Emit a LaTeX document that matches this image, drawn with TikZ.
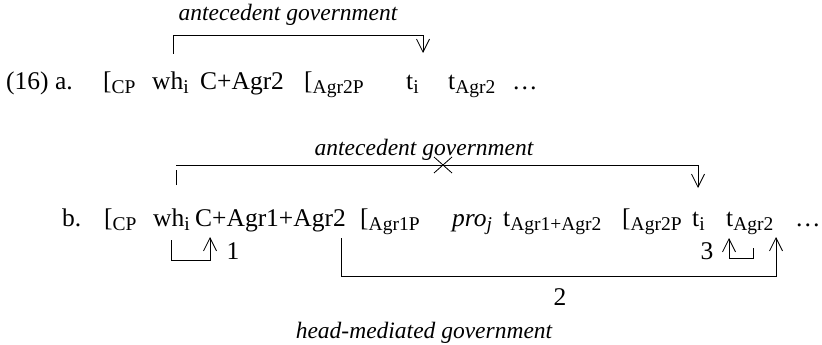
\documentclass[tikz,border=0pt]{standalone}
\usepackage{fontspec}
\setmainfont{Liberation Serif}
\usetikzlibrary{arrows.meta}
\newcommand{\sub}[1]{\raisebox{-4.5pt}{\fontsize{19.5}{20}\selectfont #1}}
\newcommand{\bra}[1]{[\sub{#1}}
\newcommand{\trc}[2]{#1\sub{#2}}

\begin{document}
\begin{tikzpicture}[
      x=1pt, y=-1pt, %pixel like units
      word/.style={anchor=base west, inner sep=0pt, font=\fontsize{25.5}{30}\selectfont},
      gov/.style={inner sep=0pt, font=\fontsize{23.5}{28}\selectfont\itshape},
      num/.style={inner sep=0pt, font=\fontsize{25.5}{30}\selectfont},
      link/.style={line width=0.8pt},
      move/.style={link, -{Straight Barb[length=13pt,width=13pt]}}
    ]
    \useasboundingbox (0,0) rectangle (822,345);
    % Sentence a
    \node[word] (exa) at (6,89) {(16) a.};
    \node[word] (cpa) at (103,89) {\bra{CP}};
    \node[word] (wha) at (152,89) {wh\sub{i}};
    \node[word] (ca) at (200,89) {C+Agr2};
    \node[word] (agra) at (304,89) {\bra{Agr2P}};
    \node[word] (tia) at (406,89) {t\sub{i}};
    \node[word] (tagra) at (448,89) {\trc{t}{Agr2}};
    \node[word] (dota) at (512,89) {\dots};
    % antecedent government in a
    \node[gov] (gova) at (288,15) {antecedent government};
    \coordinate (a1s) at (173,54);
    \coordinate (a1c) at (423,35);
    \coordinate (a1e) at (423,53);
    \draw[move] (a1s) |- (a1c) -- (a1e);
    % Sentence b
    \node[word] (exb) at (62,226) {b.};
    \node[word] (cpb) at (104,226) {\bra{CP}};
    \node[word] (whb) at (153,226) {wh\sub{i}};
    \node[word] (cb) at (195,226) {C+Agr1+Agr2};
    \node[word] (agrb) at (360,226) {\bra{Agr1P}};
    \node[word] (prob) at (452,226) {\textit{pro}\sub{\textit{j}}};
    \node[word] (tagrb) at (503,226) {\trc{t}{Agr1+Agr2}};
    \node[word] (agr2b) at (622,226) {\bra{Agr2P}};
    \node[word] (tib) at (692,226) {t\sub{i}};
    \node[word] (tagr2b) at (726,226) {\trc{t}{Agr2}};
    \node[word] (dotb) at (795,226) {\dots};
    % blocked antecedent government in b
    \node[gov] (govb) at (424,150) {antecedent government};
    \coordinate (b1s) at (176,185);
    \coordinate (b1t) at (176,170);
    \coordinate (b1l) at (176,165);
    \coordinate (b1c) at (698,165);
    \coordinate (b1e) at (698,188);
    \draw[link] (b1s) -- (b1t);
    \draw[move] (b1l) -- (b1c) -- (b1e);
    \coordinate (bx) at (443,165);
    \draw[link] ([shift={(-9,-8)}]bx) -- ([shift={(9,8)}]bx);
    \draw[link] ([shift={(-9,8)}]bx) -- ([shift={(9,-8)}]bx);
    % head movement steps
    \coordinate (h1s) at (171,240);
    \coordinate (h1c) at (210,260);
    \coordinate (h1e) at (210,237);
    \draw[move] (h1s) |- (h1c) -- (h1e);
    \node[num] (n1) at (233,251) {1};
    \coordinate (h2s) at (341,238);
    \coordinate (h2c) at (776,276);
    \coordinate (h2e) at (776,237);
    \draw[move] (h2s) |- (h2c) -- (h2e);
    \node[num] (n2) at (560,297) {2};
    \coordinate (h3s) at (753,248);
    \coordinate (h3c) at (729,258);
    \coordinate (h3e) at (729,238);
    \draw[move] (h3s) |- (h3c) -- (h3e);
    \node[num] (n3) at (707,251) {3};
    \node[gov] (govc) at (424,333) {head-mediated government};
\end{tikzpicture}
\end{document}
